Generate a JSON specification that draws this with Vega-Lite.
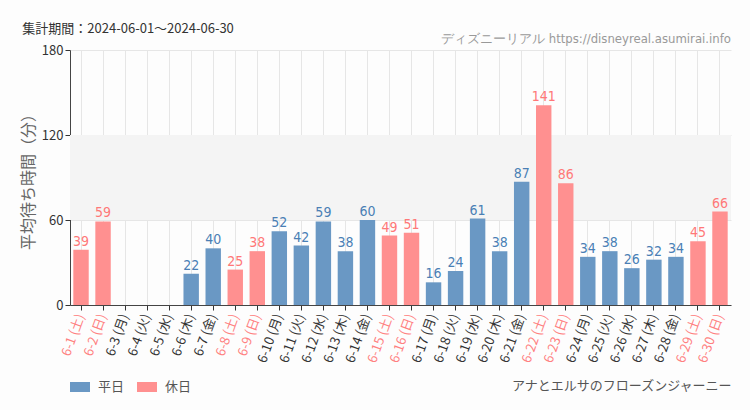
{
  "$schema": "https://vega.github.io/schema/vega-lite/v6.json",
  "width": 661,
  "height": 255,
  "autosize": {"type": "none"},
  "padding": {"left": 70, "top": 50, "right": 19, "bottom": 105},
  "background": "#fdfdfd",
  "title": {
    "text": "集計期間：2024-06-01～2024-06-30",
    "anchor": "start",
    "frame": "bounds",
    "dx": 2,
    "dy": 15,
    "offset": 12,
    "fontSize": 13,
    "fontWeight": "normal",
    "color": "#333",
    "font": "Noto Sans CJK JP"
  },
  "config": {
    "view": {"stroke": null},
    "font": "Noto Sans CJK JP"
  },
  "layer": [
    {
      "data": {"values": [{"lo": 60, "hi": 120}]},
      "mark": {"type": "rect", "color": "#f4f4f4"},
      "encoding": {
        "y": {"field": "lo", "type": "quantitative", "scale": {"domain": [0, 180]}},
        "y2": {"field": "hi"}
      }
    },
    {
      "data": {"name": "main", "values": [
        {"label": "6-1 (土)", "value": 39, "type": "休日"},
        {"label": "6-2 (日)", "value": 59, "type": "休日"},
        {"label": "6-3 (月)", "value": null, "type": "平日"},
        {"label": "6-4 (火)", "value": null, "type": "平日"},
        {"label": "6-5 (水)", "value": null, "type": "平日"},
        {"label": "6-6 (木)", "value": 22, "type": "平日"},
        {"label": "6-7 (金)", "value": 40, "type": "平日"},
        {"label": "6-8 (土)", "value": 25, "type": "休日"},
        {"label": "6-9 (日)", "value": 38, "type": "休日"},
        {"label": "6-10 (月)", "value": 52, "type": "平日"},
        {"label": "6-11 (火)", "value": 42, "type": "平日"},
        {"label": "6-12 (水)", "value": 59, "type": "平日"},
        {"label": "6-13 (木)", "value": 38, "type": "平日"},
        {"label": "6-14 (金)", "value": 60, "type": "平日"},
        {"label": "6-15 (土)", "value": 49, "type": "休日"},
        {"label": "6-16 (日)", "value": 51, "type": "休日"},
        {"label": "6-17 (月)", "value": 16, "type": "平日"},
        {"label": "6-18 (火)", "value": 24, "type": "平日"},
        {"label": "6-19 (水)", "value": 61, "type": "平日"},
        {"label": "6-20 (木)", "value": 38, "type": "平日"},
        {"label": "6-21 (金)", "value": 87, "type": "平日"},
        {"label": "6-22 (土)", "value": 141, "type": "休日"},
        {"label": "6-23 (日)", "value": 86, "type": "休日"},
        {"label": "6-24 (月)", "value": 34, "type": "平日"},
        {"label": "6-25 (火)", "value": 38, "type": "平日"},
        {"label": "6-26 (水)", "value": 26, "type": "平日"},
        {"label": "6-27 (木)", "value": 32, "type": "平日"},
        {"label": "6-28 (金)", "value": 34, "type": "平日"},
        {"label": "6-29 (土)", "value": 45, "type": "休日"},
        {"label": "6-30 (日)", "value": 66, "type": "休日"}
      ]},
      "layer": [
        {
          "mark": {"type": "bar"},
          "encoding": {
            "x": {
              "field": "label", "type": "nominal", "sort": null,
              "scale": {
                "domain": ["6-1 (土)","6-2 (日)","6-3 (月)","6-4 (火)","6-5 (水)","6-6 (木)","6-7 (金)","6-8 (土)","6-9 (日)","6-10 (月)","6-11 (火)","6-12 (水)","6-13 (木)","6-14 (金)","6-15 (土)","6-16 (日)","6-17 (月)","6-18 (火)","6-19 (水)","6-20 (木)","6-21 (金)","6-22 (土)","6-23 (日)","6-24 (月)","6-25 (火)","6-26 (水)","6-27 (木)","6-28 (金)","6-29 (土)","6-30 (日)"],
                "paddingInner": 0.3, "paddingOuter": 0.15
              },
              "axis": {
                "title": "アナとエルサのフローズンジャーニー",
                "titleAnchor": "end",
                "titleAlign": "right",
                "titleBaseline": "middle",
                "titleX": 661,
                "titleY": 80,
                "titleFontSize": 13,
                "titleFontWeight": "normal",
                "titleColor": "#555",
                "labelAngle": -70,
                "labelAlign": "right",
                "labelBaseline": "middle",
                "labelFontSize": 13,
                "labelPadding": 4,
                "labelColor": {"expr": "(indexof(datum.value, '土') >= 0 || indexof(datum.value, '日') >= 0) ? '#ff8080' : '#333'"},
                "domainColor": "#444",
                "tickColor": "#333",
                "tickSize": 5,
                "grid": true,
                "gridColor": "#e6e6e6"
              }
            },
            "y": {
              "field": "value", "type": "quantitative",
              "scale": {"domain": [0, 180]},
              "axis": {
                "title": "平均待ち時間（分）",
                "titleFontSize": 16,
                "titleFontWeight": "normal",
                "titleColor": "#666",
                "titlePadding": 5,
                "values": [0, 60, 120, 180],
                "labelFontSize": 13,
                "labelColor": "#333",
                "domainColor": "#444",
                "tickColor": "#333",
                "tickSize": 5,
                "grid": true,
                "gridColor": "#e6e6e6"
              }
            },
            "color": {
              "field": "type", "type": "nominal",
              "scale": {"domain": ["平日", "休日"], "range": ["#6a98c4", "#ff9090"]},
              "legend": {
                "title": null,
                "orient": "none",
                "direction": "horizontal",
                "legendX": 0,
                "legendY": 327,
                "symbolType": "M-1,-0.5H1V0.5H-1Z",
                "symbolSize": 400,
                "symbolOpacity": 1,
                "symbolStrokeWidth": 0,
                "labelFontSize": 13,
                "labelColor": "#555",
                "columnPadding": 12,
                "labelOffset": 8
              }
            }
          }
        },
        {
          "transform": [{"filter": "datum.value != null"}],
          "mark": {"type": "text", "baseline": "bottom", "dy": -1, "fontSize": 14, "font": "DejaVu Sans Condensed"},
          "encoding": {
            "x": {"field": "label", "type": "nominal", "sort": null},
            "y": {"field": "value", "type": "quantitative"},
            "text": {"field": "value", "type": "quantitative"},
            "color": {"condition": {"test": "datum.type === '休日'", "value": "#ff7878"}, "value": "#4a7fb5"}
          }
        }
      ]
    },
    {
      "data": {"values": [{"t": "ディズニーリアル https://disneyreal.asumirai.info"}]},
      "mark": {"type": "text", "align": "right", "baseline": "bottom", "fontSize": 13, "color": "#999", "font": "DejaVu Sans Condensed"},
      "encoding": {
        "text": {"field": "t"},
        "x": {"value": 661},
        "y": {"value": -4}
      }
    }
  ]
}
